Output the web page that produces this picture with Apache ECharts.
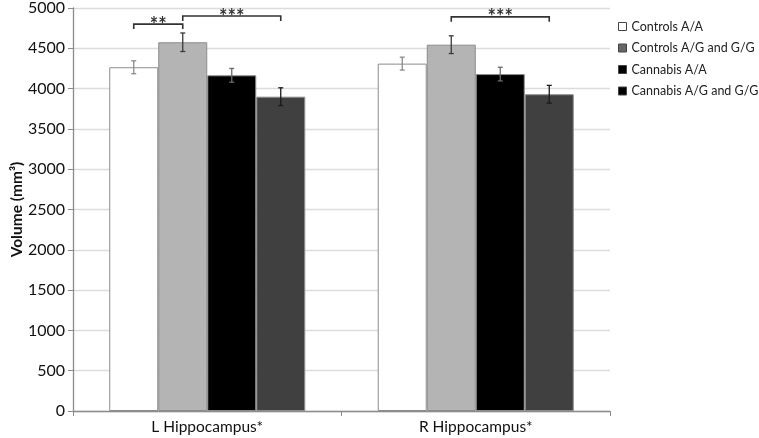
<!DOCTYPE html>
<html>
<head>
<meta charset="utf-8">
<script src="https://cdn.jsdelivr.net/npm/echarts@6/dist/echarts.min.js"></script>
<style>
  html, body { margin: 0; padding: 0; background: #fff; }
  #chart { width: 759px; height: 438px; }
</style>
</head>
<body>
<div id="chart"></div>
<script>
const categories = ['L Hippocampus*', 'R Hippocampus*'];
const seriesNames = ['Controls A/A', 'Controls A/G and G/G', 'Cannabis A/A', 'Cannabis A/G and G/G'];
const ctrlAA = [4265, 4310];
const ctrlAG = [4575, 4545];
const cannAA = [4165, 4180];
const cannAG = [3900, 3930];
const ctrlAAErr = [80, 80];
const ctrlAGErr = [115, 110];
const cannAAErr = [85, 85];
const cannAGErr = [110, 110];
// brackets: [category, fromBar, toBar, level, stars]
const brackets = [
    [0, 0, 1, 4800, '**'],
    [0, 1, 3, 4900, '***'],
    [1, 1, 3, 4890, '***']
];

const barColors = ['#ffffff', '#b4b4b4', '#000000', '#404040'];
const legendColors = ['#ffffff', '#666666', '#000000', '#000000'];
const errColors = ['#8a8a8a', '#3a3a3a', '#6a6a6a', '#1a1a1a'];
const gapRatio = 0.27;
const font = 'Lato, "Open Sans", sans-serif';

const values = [ctrlAA, ctrlAG, cannAA, cannAG];
const errs = [ctrlAAErr, ctrlAGErr, cannAAErr, cannAGErr];

let chart = echarts.init(document.getElementById('chart'));

function barCenter(api, cat, k) {
    const c = api.coord([cat, 0]);
    const band = api.size([1, 0])[0];
    const w = band * (1 - gapRatio);
    const bw = w / 4;
    return c[0] - w / 2 + bw * (k + 0.5);
}

const series = [];
seriesNames.forEach((name, k) => {
    series.push({
        name: name,
        type: 'bar',
        data: values[k],
        barGap: 0,
        barCategoryGap: (gapRatio * 100) + '%',
        itemStyle: { color: barColors[k], borderColor: '#8c8c8c', borderWidth: 1 },
        z: 2
    });
});

seriesNames.forEach((name, k) => {
    series.push({
        type: 'custom',
        data: values[k].map((v, i) => [i, v, errs[k][i]]),
        z: 5,
        renderItem: function (params, api) {
            const cat = api.value(0);
            const x = barCenter(api, cat, k);
            const top = api.coord([cat, api.value(1) + api.value(2)])[1];
            const bot = api.coord([cat, api.value(1) - api.value(2)])[1];
            const st = { stroke: errColors[k], lineWidth: 1.3 };
            return {
                type: 'group',
                children: [
                    { type: 'line', shape: { x1: x, y1: top, x2: x, y2: bot }, style: st },
                    { type: 'line', shape: { x1: x - 2.5, y1: top, x2: x + 2.5, y2: top }, style: st },
                    { type: 'line', shape: { x1: x - 2.5, y1: bot, x2: x + 2.5, y2: bot }, style: st }
                ]
            };
        }
    });
});

series.push({
    type: 'custom',
    data: brackets,
    z: 6,
    renderItem: function (params, api) {
        const cat = api.value(0);
        const x1 = barCenter(api, cat, api.value(1));
        const x2 = barCenter(api, cat, api.value(2));
        const y = api.coord([cat, api.value(3)])[1];
        const st = { stroke: '#333', lineWidth: 1.6, fill: null };
        return {
            type: 'group',
            children: [
                { type: 'polyline', shape: { points: [[x1, y + 5], [x1, y], [x2, y], [x2, y + 5]] }, style: st },
                { type: 'text', style: { text: brackets[params.dataIndex][4], x: (x1 + x2) / 2, y: y + 1,
                    align: 'center', verticalAlign: 'middle', fill: '#333', font: 'bold 20px ' + font } }
            ]
        };
    }
});

const option = {
    animation: false,
    grid: { left: 73, right: 149, top: 8, bottom: 27, outerBoundsMode: 'none', containLabel: false },
    legend: {
        orient: 'vertical',
        left: 613,
        top: 15,
        itemWidth: 8,
        itemHeight: 8,
        itemGap: 8.5,
        icon: 'rect',
        textStyle: { fontFamily: font, fontSize: 12.5, color: '#222' },
        data: seriesNames.map((n, k) => ({
            name: n,
            itemStyle: { color: legendColors[k], borderColor: '#444', borderWidth: 1 }
        }))
    },
    xAxis: {
        type: 'category',
        data: categories,
        axisLine: { lineStyle: { color: '#8c8c8c', width: 1.3 } },
        axisTick: { show: true, length: 5, lineStyle: { color: '#8c8c8c' } },
        axisLabel: { fontFamily: font, fontSize: 15.5, color: '#111', margin: 8 }
    },
    yAxis: {
        type: 'value',
        min: 0,
        max: 5000,
        interval: 500,
        name: 'Volume (mm³)',
        nameLocation: 'middle',
        nameGap: 48,
        nameMoveOverlap: false,
        nameTextStyle: { fontFamily: font, fontSize: 15.5, fontWeight: 'bold', color: '#111' },
        axisLine: { show: true, lineStyle: { color: '#8c8c8c', width: 1.3 } },
        axisTick: { show: true, length: 5, lineStyle: { color: '#8c8c8c' } },
        axisLabel: { fontFamily: font, fontSize: 16, color: '#111', margin: 8, formatter: v => String(v) },
        splitLine: { lineStyle: { color: '#dcdcdc', width: 1.3 } }
    },
    series: series
};

chart.setOption(option);
</script>
</body>
</html>
